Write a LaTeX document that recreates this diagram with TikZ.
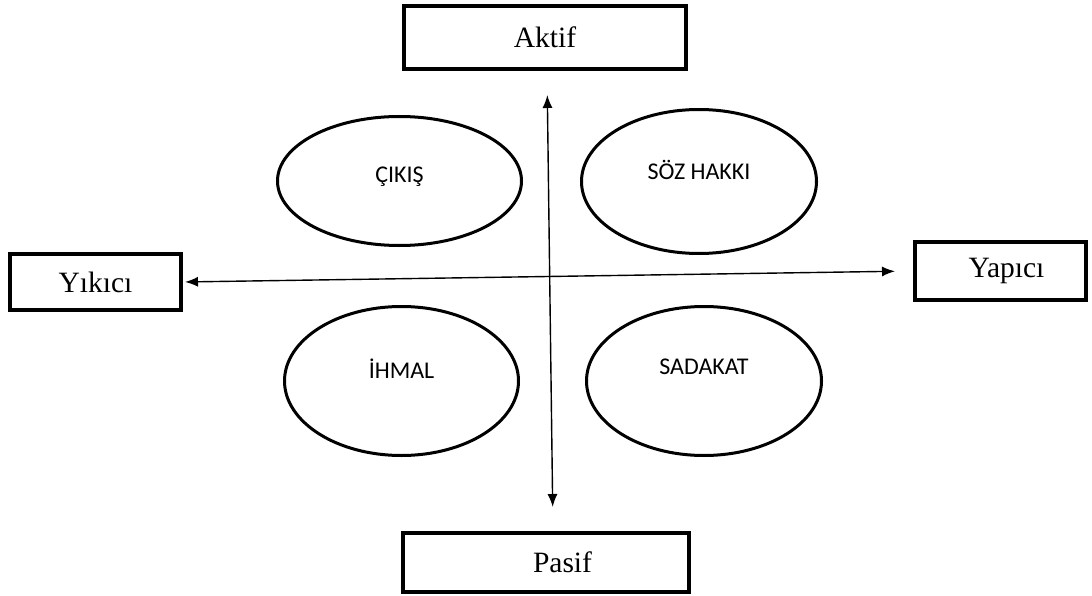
\documentclass[tikz,border=0pt]{standalone}
\usepackage{fontspec}
\setmainfont{Liberation Serif}
\newfontfamily\carlito{Carlito}
\usepackage{tikz}
\usetikzlibrary{shapes.geometric,arrows.meta}
\tikzset{
	kutu/.style={draw, line width=4pt, fill=white, inner sep=0pt, font=\fontsize{29.5}{32}\selectfont},
	tepki/.style={draw, ellipse, line width=3pt, inner sep=0pt, font=\carlito\fontsize{24}{26}\selectfont},
	eksen/.style={line width=1.4pt, {Latex[length=13pt,width=10pt]}-{Latex[length=13pt,width=10pt]}}
}

\begin{document}
\begin{tikzpicture}[x=1pt,y=-1pt]
			%%%%% START %%%%%
			\useasboundingbox (0,0) rectangle (1092,596);
			
			\node[kutu, minimum width=282pt, minimum height=63pt] (aktif) at (545, 37.5) {Aktif};
			\node[kutu, minimum width=286pt, minimum height=59pt] (pasif) at (546, 562.5) {\hspace*{33pt}Pasif};
			\node[kutu, minimum width=171pt, minimum height=56pt] (yikici) at (95.5, 282) {Yıkıcı};
			\node[kutu, minimum width=171pt, minimum height=58pt] (yapici) at (1000.5, 271) {\hspace*{12pt}Yapıcı};
			
			\node[tepki, minimum width=244pt, minimum height=129pt, text depth=12pt] (cikis) at (399.5, 181) {ÇIKIŞ};
			\node[tepki, minimum width=235pt, minimum height=144pt, text depth=24pt] (sozhakki) at (699, 181.5) {SÖZ HAKKI};
			\node[tepki, minimum width=234pt, minimum height=149pt, text depth=24pt] (ihmal) at (401.5, 381) {İHMAL};
			\node[tepki, minimum width=235pt, minimum height=149pt, text depth=28pt] (sadakat) at (704, 381) {SADAKAT};
			
			\draw[eksen, shorten <=24pt, shorten >=24pt] ([xshift=2pt]aktif.south) -- ([xshift=7pt]pasif.north);
			\draw[eksen, shorten <=2pt, shorten >=18pt] (yikici.east) -- (yapici.west);
			
			%%%%% END %%%%%
		\end{tikzpicture}
\end{document}
